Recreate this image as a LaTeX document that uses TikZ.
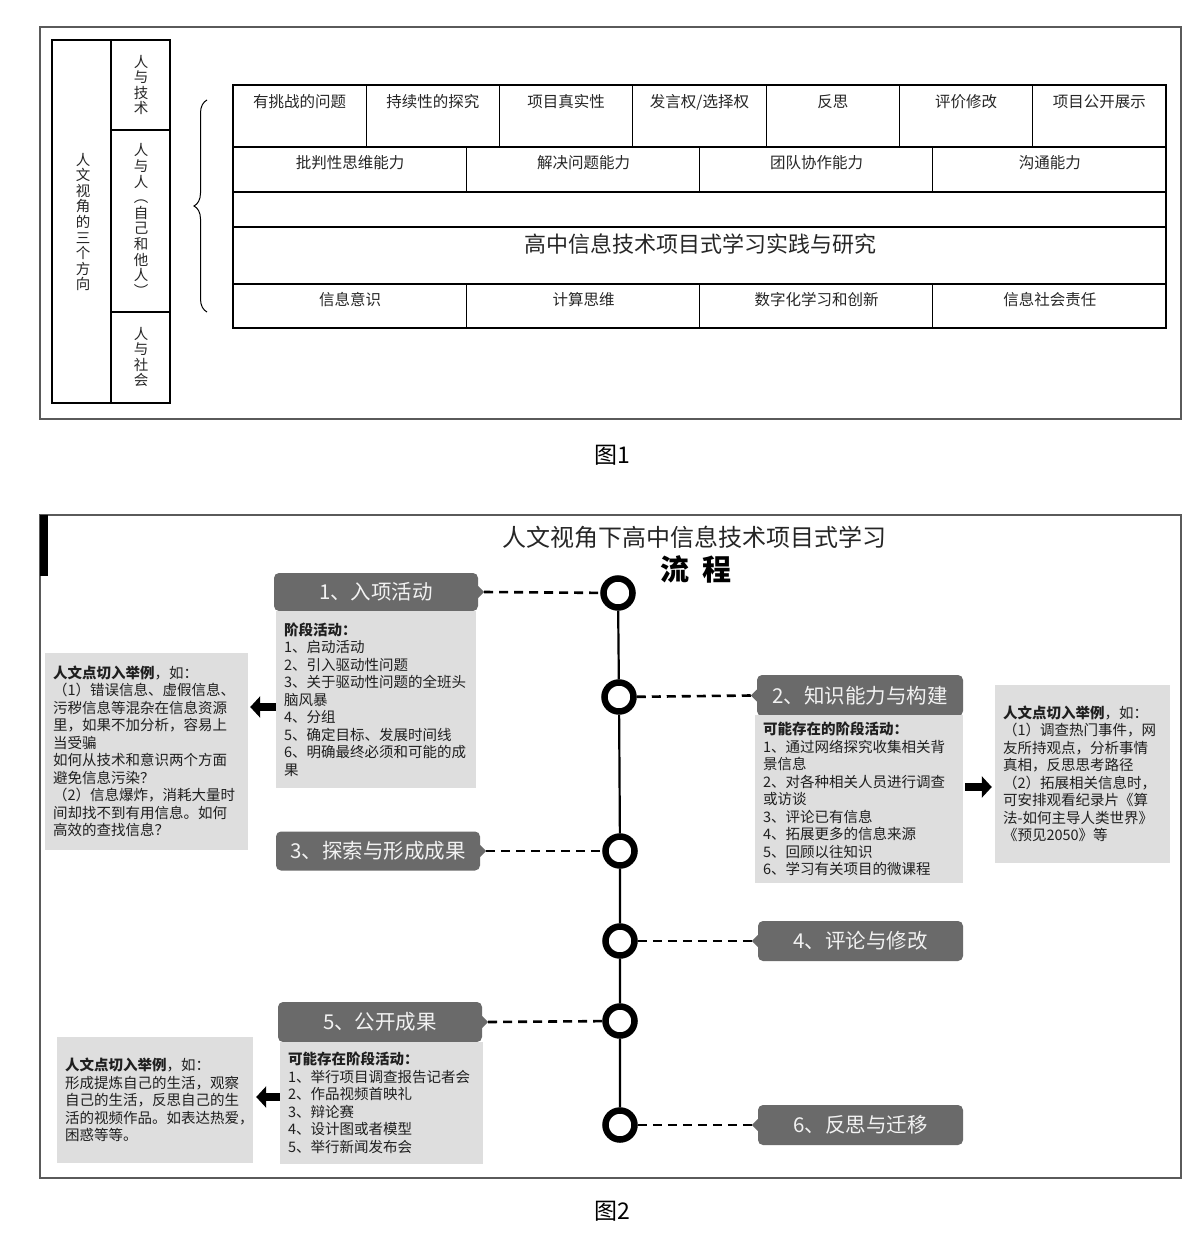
\documentclass[tikz,border=0pt]{standalone}
\usepackage{fontspec}
\setmainfont{Noto Sans CJK SC}
\usetikzlibrary{arrows.meta,decorations.pathreplacing}
\definecolor{tagc}{HTML}{6A6A6A}
\definecolor{boxc}{HTML}{DEDEDE}
\definecolor{framec}{HTML}{5A5A5A}
\definecolor{tagtext}{HTML}{F2F2F2}
\tikzset{
  frame/.style={draw=framec, line width=1.4pt},
  gridline/.style={draw=black, line width=1.1pt},
  celltext/.style={font=\fontsize{15.5}{18}\selectfont, inner sep=0pt, text=black!85},
  vtext/.style={font=\fontsize{14.5}{15.6}\selectfont, align=center, inner sep=0pt, text=black!85},
  tag/.style={fill=tagc, rounded corners=5pt, text=tagtext, font=\fontsize{20.5}{24}\selectfont, inner sep=0pt},
  cbox/.style={fill=boxc, font=\fontsize{14.5}{17.5}\selectfont, align=left, inner xsep=8pt, inner ysep=3pt, text=black!88},
  dashline/.style={line width=2.6pt, dash pattern=on 9pt off 6pt},
  ring/.style={circle, draw=black, line width=6.5pt, minimum size=29pt, fill=white, inner sep=0pt},
  fat/.style={line width=8pt, -{Triangle[length=10pt,width=21pt]}, black},
}
\begin{document}
\begin{tikzpicture}[x=1pt,y=-1pt]
\useasboundingbox[fill=white] (0,0) rectangle (1200,1241);

% ===================== Figure 1 =====================
\draw[frame] (40,27) rectangle (1181,419);
% left vertical boxes
\draw[gridline] (52,40) rectangle (170,403);
\draw[gridline] (111,40) -- (111,403);
\draw[gridline] (111,130) -- (170,130);
\draw[gridline] (111,312) -- (170,312);
\node[vtext] (v0) at (83,222) {人\\文\\视\\角\\的\\三\\个\\方\\向};
\node[vtext] (v1) at (141,85) {人\\与\\技\\术};
\node[vtext] (v2) at (141,220) {人\\与\\人\\︵\\自\\己\\和\\他\\人\\︶};
\node[vtext] (v3) at (141,357) {人\\与\\社\\会};
% brace
\draw[line width=1pt, decorate, decoration={brace, amplitude=13pt, aspect=0.5}] (207,312) -- (207,100);
% table
\draw[gridline] (233,85) rectangle (1166,328);
\draw[gridline] (233,147) -- (1166,147);
\draw[gridline] (233,192) -- (1166,192);
\draw[gridline] (233,227) -- (1166,227);
\draw[gridline] (233,284) -- (1166,284);
\foreach \i in {1,...,6} {\draw[gridline] ({233+133.2857*\i},85) -- ({233+133.2857*\i},147);}
\foreach \i in {1,2,3} {\draw[gridline] ({233+233.25*\i},147) -- ({233+233.25*\i},192);
                        \draw[gridline] ({233+233.25*\i},284) -- ({233+233.25*\i},328);}
\node[celltext] (r11) at (299.6,102) {有挑战的问题};
\node[celltext] (r12) at (432.9,102) {持续性的探究};
\node[celltext] (r13) at (566.2,102) {项目真实性};
\node[celltext] (r14) at (699.5,102) {发言权/选择权};
\node[celltext] (r15) at (832.8,102) {反思};
\node[celltext] (r16) at (966.1,102) {评价修改};
\node[celltext] (r17) at (1099.4,102) {项目公开展示};
\node[celltext] (r21) at (350,163) {批判性思维能力};
\node[celltext] (r22) at (583.5,163) {解决问题能力};
\node[celltext] (r23) at (816.5,163) {团队协作能力};
\node[celltext] (r24) at (1049.75,163) {沟通能力};
\node[celltext, font=\fontsize{22}{26}\selectfont] (rt) at (700,244) {高中信息技术项目式学习实践与研究};
\node[celltext] (r51) at (350,300) {信息意识};
\node[celltext] (r52) at (583.5,300) {计算思维};
\node[celltext] (r53) at (816.5,300) {数字化学习和创新};
\node[celltext] (r54) at (1049.75,300) {信息社会责任};
\node[font=\fontsize{23}{26}\selectfont, inner sep=0pt] (fig1) at (612,455) {图1};

% ===================== Figure 2 =====================
\draw[frame] (40,515) rectangle (1181,1178);
\fill[black] (40,515) rectangle (48,576);
\node[font=\fontsize{24}{28}\selectfont, inner sep=0pt, text=black!85] (title) at (694,537) {人文视角下高中信息技术项目式学习};
\node[font=\fontsize{29}{32}\selectfont\bfseries, inner sep=0pt] (title2) at (696,569) {流\hspace{13pt}程};

% rings
\node[ring] (c1) at (618,593) {};
\node[ring] (c2) at (619,697) {};
\node[ring] (c3) at (620,851) {};
\node[ring] (c4) at (620,941) {};
\node[ring] (c5) at (620,1021) {};
\node[ring] (c6) at (620,1125) {};
\draw[line width=2.2pt] (c1) -- (c2) (c2) -- (c3) (c3) -- (c4) (c4) -- (c5) (c5) -- (c6);

% tags
\node[tag, minimum width=204pt, minimum height=38pt] (t1) at (376,592) {1、入项活动};
\node[tag, minimum width=206pt, minimum height=41pt] (t2) at (860,695.5) {2、知识能力与构建};
\node[tag, minimum width=204pt, minimum height=39pt] (t3) at (378,851) {3、探索与形成成果};
\node[tag, minimum width=205pt, minimum height=40pt] (t4) at (860.5,941) {4、评论与修改};
\node[tag, minimum width=204pt, minimum height=40pt] (t5) at (380,1022) {5、公开成果};
\node[tag, minimum width=205pt, minimum height=40pt] (t6) at (860.5,1125) {6、反思与迁移};
\foreach \t in {t1,t3,t5} {\fill[tagc] ([yshift=6pt]\t.east) -- ([xshift=6pt]\t.east) -- ([yshift=-6pt]\t.east) -- cycle;}
\foreach \t in {t2,t4,t6} {\fill[tagc] ([yshift=6pt]\t.west) -- ([xshift=-6pt]\t.west) -- ([yshift=-6pt]\t.west) -- cycle;}

% dashed connectors
\draw[dashline] ([xshift=6pt]t1.east) -- (c1);
\draw[dashline] (c2) -- ([xshift=-6pt]t2.west);
\draw[dashline] ([xshift=6pt]t3.east) -- (c3);
\draw[dashline] (c4) -- ([xshift=-6pt]t4.west);
\draw[dashline] ([xshift=6pt]t5.east) -- (c5);
\draw[dashline] (c6) -- ([xshift=-6pt]t6.west);

% content boxes
\node[cbox, text width=184pt, minimum height=177pt] (b1) at (376,699.5)
 {\textbf{阶段活动：}\\1、启动活动\\2、引入驱动性问题\\3、关于驱动性问题的全班头\\脑风暴\\4、分组\\5、确定目标、发展时间线\\6、明确最终必须和可能的成\\果};
\node[cbox, text width=187pt, minimum height=197pt] (l1) at (146.5,751.5)
 {\textbf{人文点切入举例}，如：\\（1）错误信息、虚假信息、\\污秽信息等混杂在信息资源\\里，如果不加分析，容易上\\当受骗\\如何从技术和意识两个方面\\避免信息污染？\\（2）信息爆炸，消耗大量时\\间却找不到有用信息。如何\\高效的查找信息？};
\node[cbox, text width=192pt, minimum height=168pt] (b2) at (859,799)
 {\textbf{可能存在的阶段活动：}\\1、通过网络探究收集相关背\\景信息\\2、对各种相关人员进行调查\\或访谈\\3、评论已有信息\\4、拓展更多的信息来源\\5、回顾以往知识\\6、学习有关项目的微课程};
\node[cbox, text width=159pt, minimum height=178pt] (r2) at (1082.5,774)
 {\textbf{人文点切入举例}，如：\\（1）调查热门事件，网\\友所持观点，分析事情\\真相，反思思考路径\\（2）拓展相关信息时，\\可安排观看纪录片《算\\法-如何主导人类世界》\\《预见2050》等};
\node[cbox, text width=187pt, minimum height=122pt] (b5) at (381.5,1103)
 {\textbf{可能存在阶段活动：}\\1、举行项目调查报告记者会\\2、作品视频首映礼\\3、辩论赛\\4、设计图或者模型\\5、举行新闻发布会};
\node[cbox, text width=180pt, minimum height=126pt] (l5) at (155,1100)
 {\textbf{人文点切入举例}，如：\\形成提炼自己的生活，观察\\自己的生活，反思自己的生\\活的视频作品。如表达热爱，\\困惑等等。};

% fat arrows
\coordinate (a1) at (0,707);
\coordinate (a2) at (0,787);
\coordinate (a3) at (0,1097);
\draw[fat, shorten >=2pt] (b1.west |- a1) -- (l1.east |- a1);
\draw[fat, shorten <=2pt, shorten >=3pt] (b2.east |- a2) -- (r2.west |- a2);
\draw[fat, shorten >=3pt] (b5.west |- a3) -- (l5.east |- a3);

\node[font=\fontsize{23}{26}\selectfont, inner sep=0pt] (fig2) at (612,1211) {图2};
\end{tikzpicture}
\end{document}
